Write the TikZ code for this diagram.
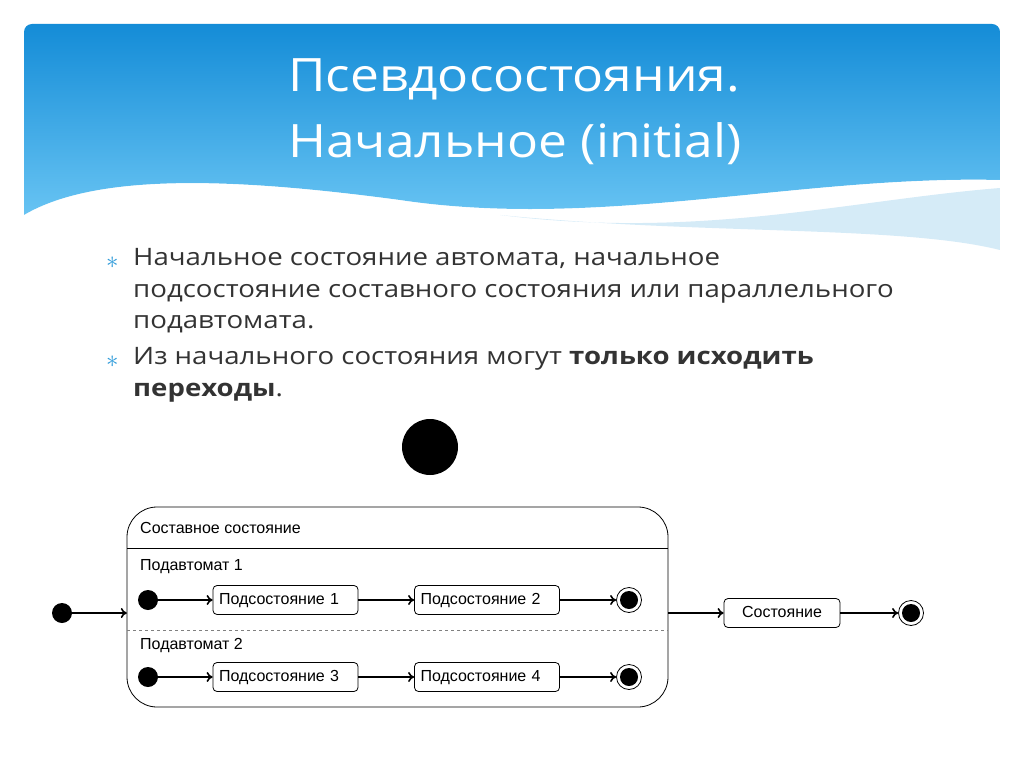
\documentclass[tikz,border=0pt]{standalone}
\usepackage{fontspec}
\setmainfont{Open Sans}
\newfontfamily\arialf{Liberation Sans}
\usetikzlibrary{arrows.meta,shapes.geometric}
\definecolor{txt}{HTML}{333333}
\definecolor{bul}{HTML}{2E9BDA}
\begin{document}
\begin{tikzpicture}[x=1pt,y=-1pt,
  st/.style={draw,rounded corners=4pt,minimum width=145pt,minimum height=29pt,inner xsep=6pt,inner ysep=0pt,text width=133pt,text height=11pt,text depth=3pt,align=left,font=\arialf\fontsize{16}{18}\selectfont,line width=0.8pt},
  ini/.style={circle,fill=black,minimum size=20pt,inner sep=0pt},
  fin/.style={circle,draw,line width=0.8pt,fill=white,minimum size=25pt,inner sep=0pt},
  dot/.style={circle,fill=black,minimum size=18pt,inner sep=0pt},
  tr/.style={-{To[length=6pt,width=10pt]},line width=1.6pt},
  lbl/.style={anchor=west,font=\arialf\fontsize{16}{18}\selectfont,inner sep=0pt},
  body/.style={anchor=base west,font=\fontsize{24}{28}\selectfont,text=txt,inner sep=0pt,xscale=1.15,transform shape}]
\useasboundingbox (0,0) rectangle (1024,767);
\fill[white] (0,0) rectangle (1024,767);
% header
\begin{scope}
\clip[rounded corners=8pt] (24,24) rectangle (1000,260);
\shade[top color={rgb,255:red,20;green,140;blue,215}, bottom color={rgb,255:red,110;green,200;blue,245}]
 (24,24) -- (1000,24) -- (1000,180) .. controls (800,175) and (600,230) .. (400,200) .. controls (250,180) and (100,170) .. (24,215) -- cycle;
\fill[white,opacity=0.35] (24,215) .. controls (100,170) and (250,180) .. (400,200) .. controls (600,230) and (800,175) .. (1000,180) -- (1000,190) .. controls (800,190) and (600,235) .. (400,210) .. controls (250,192) and (100,185) .. (24,222) -- cycle;
\fill[bul,opacity=0.2] (500,215) .. controls (700,240) and (850,200) .. (1000,188) -- (1000,250) .. controls (900,225) and (700,235) .. (500,215) -- cycle;
\end{scope}
\node[anchor=base west,text=white,font=\fontsize{46}{50}\selectfont,inner sep=0pt,xscale=1.12,transform shape] (t1) at (288,92) {Псевдосостояния.};
\node[anchor=base west,text=white,font=\fontsize{46}{50}\selectfont,inner sep=0pt,xscale=1.12,transform shape] (t2) at (288,158) {Начальное (initial)};
% body
\node[anchor=base west,text=bul,font=\fontsize{26}{26}\selectfont,inner sep=0pt] (b1) at (106,268) {$\ast$};
\node[anchor=base west,text=bul,font=\fontsize{26}{26}\selectfont,inner sep=0pt] (b2) at (106,367) {$\ast$};
\node[body] (l1) at (133,265) {Начальное состояние автомата, начальное};
\node[body] (l2) at (133,297) {подсостояние составного состояния или параллельного};
\node[body] (l3) at (133,328) {подавтомата.};
\node[body] (l4) at (133,364) {Из начального состояния могут \textbf{только исходить}};
\node[body] (l5) at (133,396) {\textbf{переходы}.};
% diagram
\node[circle,fill=black,minimum size=56pt,inner sep=0pt] (big) at (430,447) {};
\draw[line width=0.8pt,rounded corners=30pt] (127,507) rectangle (668,707);
\node[draw=none,minimum width=541pt,minimum height=200pt,inner sep=0pt] (comp) at (397.5,607) {};
\draw[line width=0.8pt] (127,548) -- (668,548);
\draw[line width=0.8pt,dashed,gray] (127,630) -- (668,630);
\node[lbl] (cn) at (140,528) {Составное состояние};
\node[lbl] (p1) at (140,567) {Подавтомат 1};
\node[lbl] (p2) at (140,646) {Подавтомат 2};
\node[ini] (i1) at (148,600) {};
\node[st] (s1) at (285.5,600) {Подсостояние 1};
\node[st] (s2) at (487,600) {Подсостояние 2};
\node[fin] (f1) at (629,600) {};
\node[dot] (d1) at (f1) {};
\node[ini] (i2) at (148,677) {};
\node[st] (s3) at (285.5,677) {Подсостояние 3};
\node[st] (s4) at (487,677) {Подсостояние 4};
\node[fin] (f2) at (629,677) {};
\node[dot] (d2) at (f2) {};
\draw[tr] (i1) -- (s1); \draw[tr] (s1) -- (s2); \draw[tr] (s2) -- (f1);
\draw[tr] (i2) -- (s3); \draw[tr] (s3) -- (s4); \draw[tr] (s4) -- (f2);
\node[ini] (i0) at (62,613) {};
\draw[tr] (i0) -- (comp.west |- i0);
\node[st,minimum width=116pt,text width=104pt,align=center] (s) at (782,613) {Состояние};
\node[fin] (f0) at (911,613) {};
\node[dot] (d0) at (f0) {};
\draw[tr] (comp.east |- s) -- (s);
\draw[tr] (s) -- (f0);
\end{tikzpicture}
\end{document}
